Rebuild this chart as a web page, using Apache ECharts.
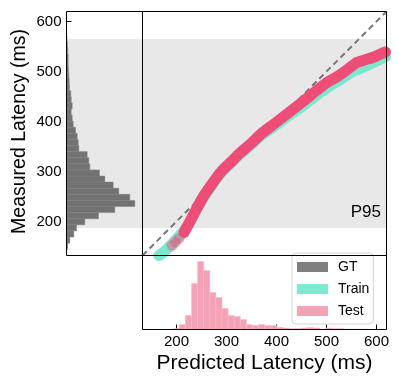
<!DOCTYPE html>
<html>
<head>
<meta charset="utf-8">
<script src="https://cdn.jsdelivr.net/npm/echarts@6/dist/echarts.min.js"></script>
<style>
  html, body { margin: 0; padding: 0; background: #fff; }
  #chart { width: 399px; height: 386px; }
</style>
</head>
<body>
<div id="chart"></div>
<script>
// histogram bins shared by both marginal plots (ms)
const binStart = 144.6;
const binWidth = 12.2;
// GT measured latency histogram (left panel)
const gtCounts = [1.3, 3.3, 7.3, 10, 18.3, 32, 48.3, 68.3, 63.3, 52.3, 46.7, 38.3, 33, 23.3, 22.3, 20.7,
    12.3, 11.7, 10.7, 9, 6.7, 5.7, 4.7, 5.7, 4.7, 4.3, 3, 2.7, 2.3, 2, 1.7, 1.7, 1.3, 1, 0.5];
// Test predicted latency histogram (bottom panel)
const testCounts = [0, 0, 0, 0, 1, 5, 14, 46, 68, 59, 37, 32, 21, 14, 13, 10, 5, 4, 5, 4, 4, 2,
    1.5, 1, 1, 1.5, 2, 1.5, 0.5, 1.5, 1, 1, 0.5, 0.5, 0.3, 0.3];

// [predicted, measured]
const trainPts = [[165, 132], [175, 139], [188, 152], [200, 165], [214, 180], [228, 200], [241, 226],
    [255, 250], [271, 273], [288, 296], [308, 316], [328, 335], [348, 352], [368, 371], [395, 390],
    [421, 409], [448, 428], [475, 449], [501, 467], [528, 484], [555, 501], [581, 512], [600, 521], [618, 530]];
const testPts = [[215, 178], [228, 202], [241, 227], [255, 252], [271, 275], [288, 298], [308, 318],
    [328, 338], [348, 355], [368, 374], [395, 395], [421, 415], [448, 436], [468, 452], [475, 458],
    [501, 478], [515, 486], [528, 494], [555, 514], [561, 518], [595, 529], [608, 535], [618, 539]];
const testTail = [[191, 152], [198, 159], [205, 166]];

const axisRange = [132, 620];
const tickVals = [200, 300, 400, 500, 600];
const p95Band = [187, 565];

const FONT = 'Liberation Sans, Arial, Helvetica, sans-serif';
const edges = [];
for (let i = 0; i <= 40; i++) edges.push(+(binStart + i * binWidth).toFixed(1));

const gtData = gtCounts.map((c, i) => [edges[i], edges[i + 1], c]);
const testHist = testCounts.map((c, i) => [edges[i], edges[i + 1], c]).filter(d => d[2] > 0);

const chart = echarts.init(document.getElementById('chart'), null, {renderer: 'canvas'});

const hiddenAxis = {
    axisLine: {show: false}, axisTick: {show: false}, axisLabel: {show: false}, splitLine: {show: false}
};

// panel frames drawn on top of everything
function frame(x, y, w, h) {
    return {
        type: 'rect', z: 100, silent: true,
        shape: {x: x, y: y, width: w, height: h},
        style: {fill: 'none', stroke: '#000', lineWidth: 1}
    };
}

const option = {
    animation: false,
    textStyle: {fontFamily: FONT},
    grid: [
        {left: 142.5, top: 11.5, width: 244, height: 244},
        {left: 66.5, top: 11.5, width: 76, height: 244},
        {left: 142.5, top: 255.5, width: 244, height: 74}
    ],
    xAxis: [
        Object.assign({type: 'value', gridIndex: 0, min: axisRange[0], max: axisRange[1]}, hiddenAxis),
        Object.assign({type: 'value', gridIndex: 1, min: 0, max: 76}, hiddenAxis),
        {
            type: 'value', gridIndex: 2, min: axisRange[0], max: axisRange[1],
            axisLine: {show: false}, splitLine: {show: false},
            axisTick: {show: true, inside: true, length: 5, customValues: tickVals, lineStyle: {color: '#000', width: 1}},
            axisLabel: {show: true, customValues: tickVals, color: '#000', fontSize: 15, margin: 5, fontFamily: FONT}
        }
    ],
    yAxis: [
        Object.assign({type: 'value', gridIndex: 0, min: axisRange[0], max: axisRange[1]}, hiddenAxis),
        {
            type: 'value', gridIndex: 1, min: axisRange[0], max: axisRange[1],
            axisLine: {show: false}, splitLine: {show: false},
            axisTick: {show: true, inside: true, length: 5, customValues: tickVals, lineStyle: {color: '#000', width: 1}},
            axisLabel: {show: true, customValues: tickVals, color: '#000', fontSize: 15, margin: 5, fontFamily: FONT}
        },
        Object.assign({type: 'value', gridIndex: 2, min: 0, max: 74}, hiddenAxis)
    ],
    legend: {
        orient: 'vertical',
        left: 292, top: 253,
        itemWidth: 31, itemHeight: 10, itemGap: 6,
        padding: [6, 4, 5, 5],
        backgroundColor: '#fff',
        borderColor: '#d4d4d4', borderWidth: 1, borderRadius: 4,
        icon: 'rect',
        textStyle: {fontSize: 14, color: '#000', lineHeight: 16, fontFamily: FONT, padding: [0, 0, 0, 5]},
        selectedMode: false,
        z: 50,
        data: [
            {name: 'GT', itemStyle: {color: '#7f7f7f'}},
            {name: 'Train', itemStyle: {color: '#80e9d1'}},
            {name: 'Test', itemStyle: {color: '#f6a2b6'}}
        ]
    },
    series: [
        // P95 bands
        {
            type: 'line', xAxisIndex: 0, yAxisIndex: 0, data: [], silent: true, z: 1,
            markArea: {silent: true, itemStyle: {color: '#e8e8e8'}, data: [[{yAxis: p95Band[0]}, {yAxis: p95Band[1]}]]}
        },
        {
            type: 'line', xAxisIndex: 1, yAxisIndex: 1, data: [], silent: true, z: 1,
            markArea: {silent: true, itemStyle: {color: '#e8e8e8'}, data: [[{yAxis: p95Band[0]}, {yAxis: p95Band[1]}]]}
        },
        // y = x reference
        {
            type: 'line', xAxisIndex: 0, yAxisIndex: 0, z: 3, silent: true, symbol: 'none',
            data: [[axisRange[0], axisRange[0]], [axisRange[1], axisRange[1]]],
            lineStyle: {color: '#777', width: 2, type: [6, 4]}
        },
        {
            name: 'Train', type: 'line', xAxisIndex: 0, yAxisIndex: 0, z: 4, smooth: 0.3, symbol: 'none',
            data: trainPts,
            itemStyle: {color: '#80e9d1'},
            lineStyle: {color: '#7de8cf', width: 11, cap: 'round', join: 'round'}
        },
        {
            name: 'Test', type: 'line', xAxisIndex: 0, yAxisIndex: 0, z: 5, smooth: 0.3, symbol: 'none',
            data: testPts,
            itemStyle: {color: '#ee4d77'},
            lineStyle: {color: '#ee4d77', width: 11, cap: 'round', join: 'round'}
        },
        {
            name: 'Test', type: 'scatter', xAxisIndex: 0, yAxisIndex: 0, z: 5, symbolSize: 11,
            data: testTail,
            itemStyle: {color: '#ee4d77', opacity: 0.45}
        },
        {
            name: 'GT', type: 'custom', xAxisIndex: 1, yAxisIndex: 1, z: 3,
            data: gtData,
            encode: {x: 2, y: 0},
            itemStyle: {color: '#717171'},
            renderItem: function (params, api) {
                const p0 = api.coord([0, api.value(1)]);
                const p1 = api.coord([api.value(2), api.value(0)]);
                return {
                    type: 'rect',
                    shape: {x: p0[0], y: p0[1], width: p1[0] - p0[0], height: p1[1] - p0[1]},
                    style: {fill: '#727272', stroke: '#808080', lineWidth: 0.5}
                };
            }
        },
        {
            name: 'Test', type: 'custom', xAxisIndex: 2, yAxisIndex: 2, z: 3,
            data: testHist,
            encode: {x: 0, y: 2},
            itemStyle: {color: '#f6a2b6'},
            renderItem: function (params, api) {
                const p0 = api.coord([api.value(0), api.value(2)]);
                const p1 = api.coord([api.value(1), 0]);
                return {
                    type: 'rect',
                    shape: {x: p0[0], y: p0[1], width: p1[0] - p0[0], height: p1[1] - p0[1]},
                    style: {fill: '#f6a2b6', stroke: '#f8b8c8', lineWidth: 0.5}
                };
            }
        }
    ],
    graphic: [
        frame(66.5, 11.5, 76, 244),
        frame(142.5, 11.5, 244, 244),
        frame(142.5, 255.5, 244, 74),
        {
            type: 'text', x: 20, y: 131.5, rotation: Math.PI / 2,
            style: {text: 'Measured Latency (ms)', fill: '#000', font: '19.5px ' + FONT, align: 'center', verticalAlign: 'middle'}
        },
        {
            type: 'text', x: 264.5, y: 363,
            style: {text: 'Predicted Latency (ms)', fill: '#000', font: '21px ' + FONT, align: 'center', verticalAlign: 'middle'}
        },
        {
            type: 'text', x: 381, y: 212, z: 10,
            style: {text: 'P95', fill: '#000', font: '17px ' + FONT, align: 'right', verticalAlign: 'middle'}
        }
    ]
};

chart.setOption(option);
</script>
</body>
</html>
